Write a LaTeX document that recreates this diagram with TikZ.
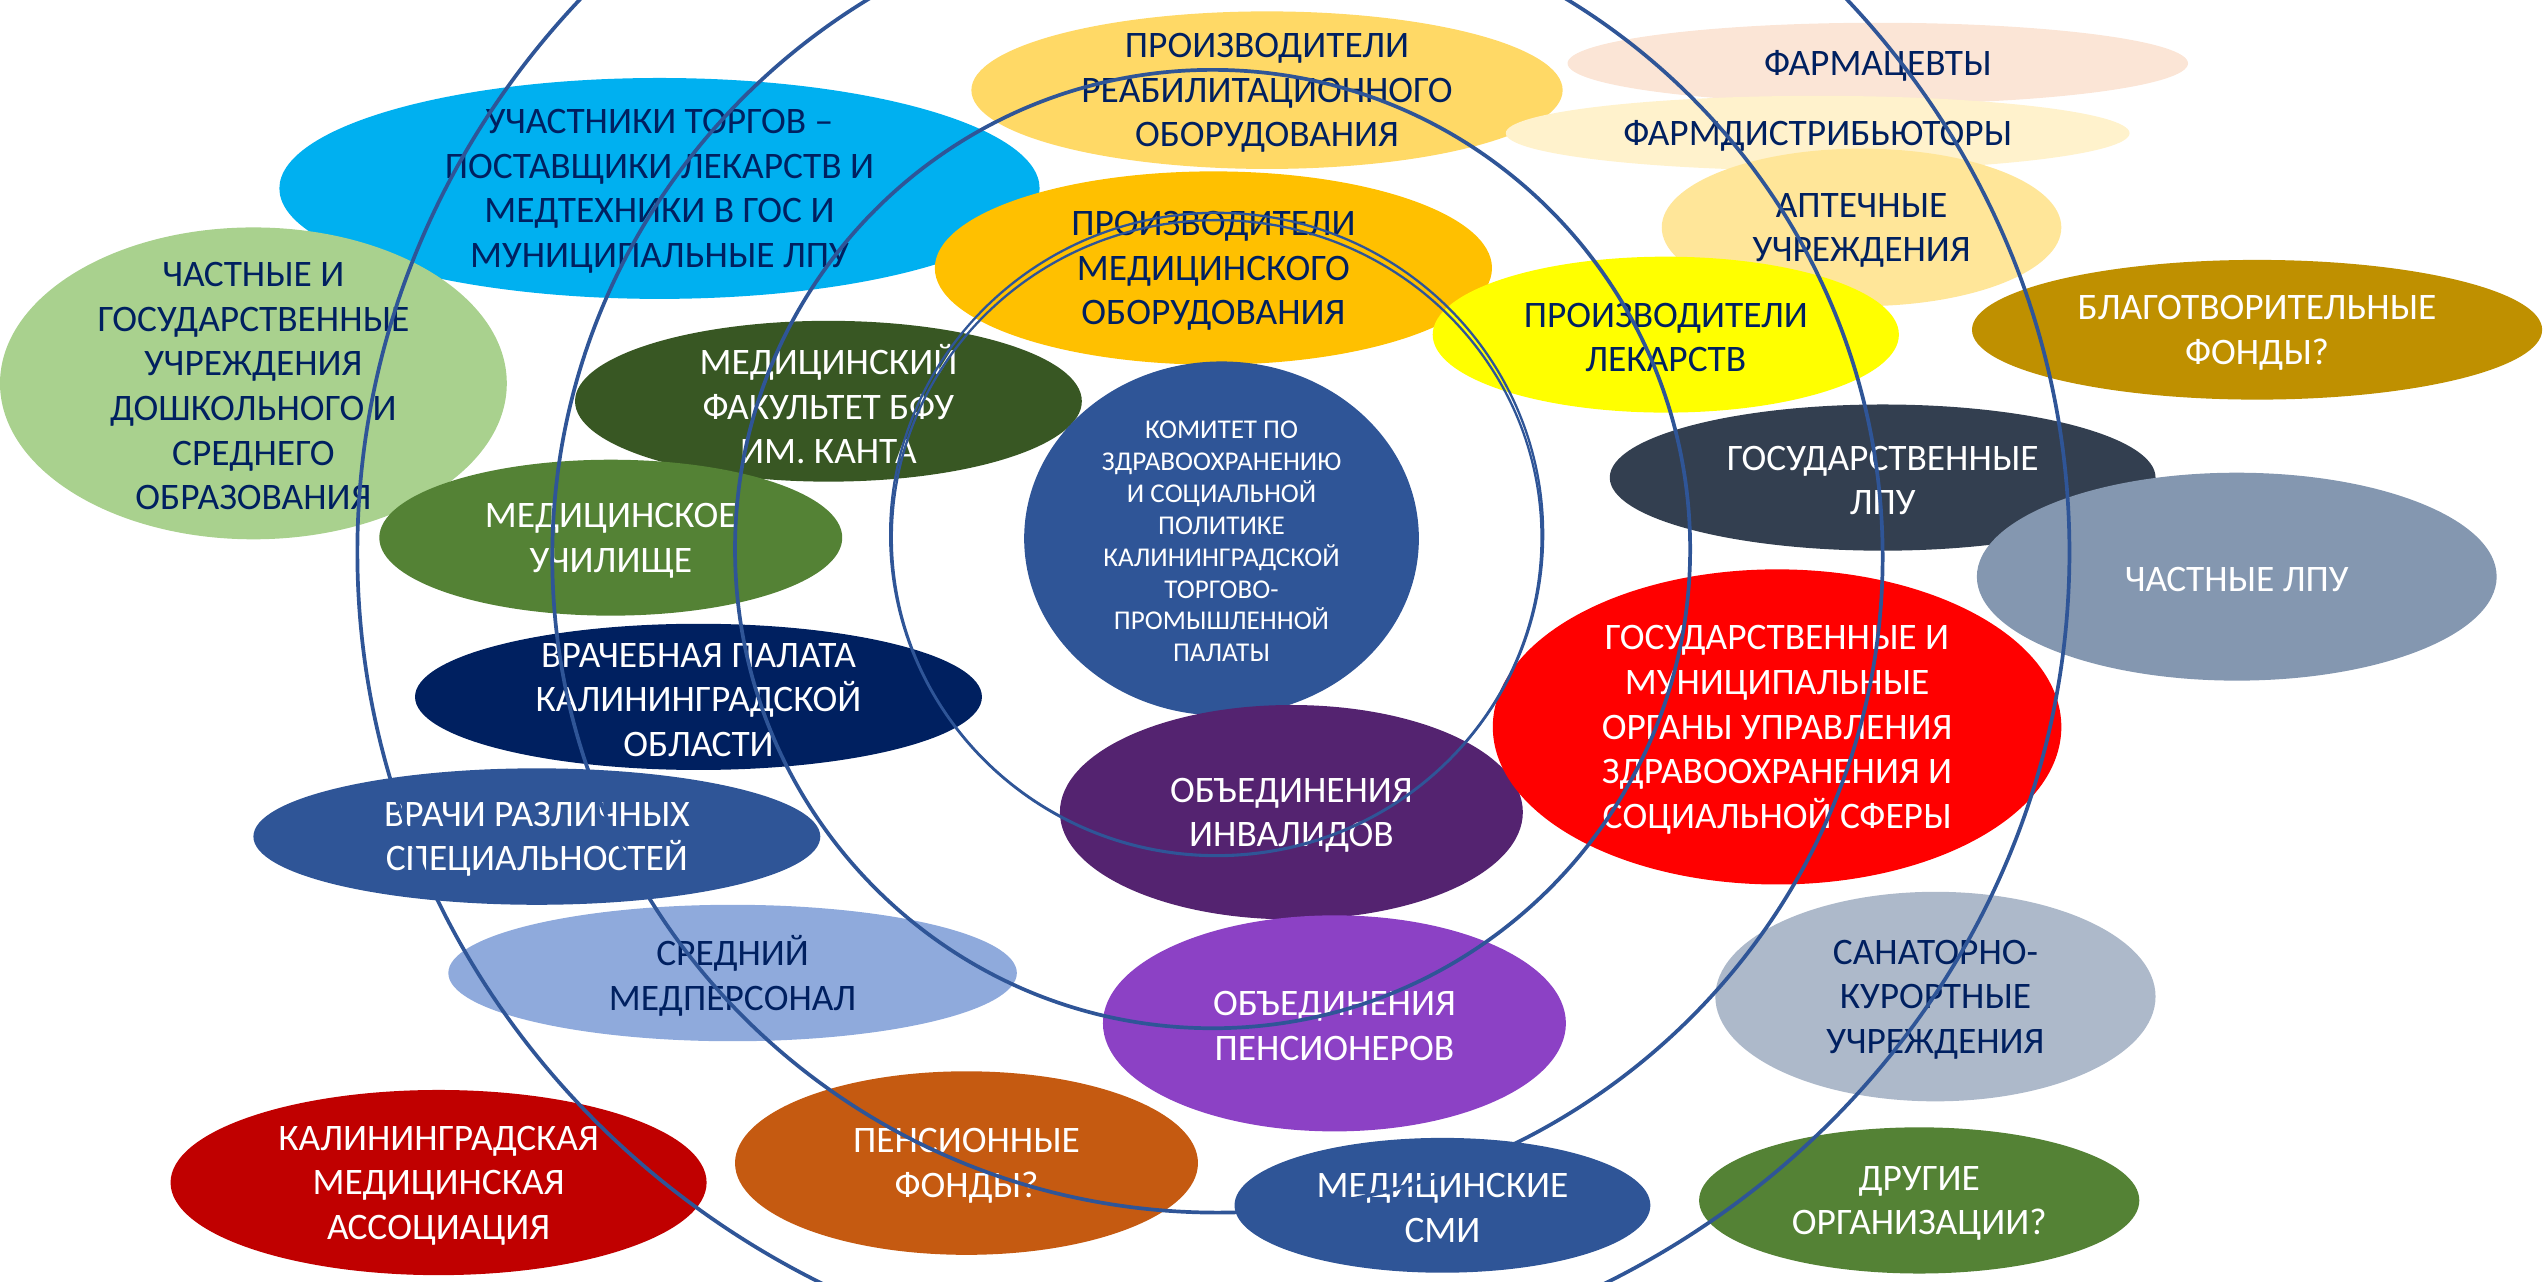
\documentclass[tikz,border=0pt]{standalone}
\usepackage{fontspec}
\setmainfont{Carlito}
\definecolor{navy}{HTML}{002060}
\definecolor{ringblue}{HTML}{2F5597}
\definecolor{cyanf}{HTML}{00B0F0}
\definecolor{lgreen}{HTML}{A9D18E}
\definecolor{dgreen}{HTML}{385723}
\definecolor{mgreen}{HTML}{548235}
\definecolor{dnavy}{HTML}{002060}
\definecolor{mblue}{HTML}{2F5597}
\definecolor{lblue}{HTML}{8FAADC}
\definecolor{dred}{HTML}{C00000}
\definecolor{orangef}{HTML}{C55A11}
\definecolor{lorange}{HTML}{FFD966}
\definecolor{goldf}{HTML}{FFC000}
\definecolor{dpurple}{HTML}{542370}
\definecolor{purplef}{HTML}{8C41C5}
\definecolor{peach}{HTML}{FBE5D6}
\definecolor{cream}{HTML}{FFF2CC}
\definecolor{lgold}{HTML}{FFE699}
\definecolor{yellowf}{HTML}{FFFF00}
\definecolor{dgold}{HTML}{BF9000}
\definecolor{slate}{HTML}{333F50}
\definecolor{greyblue}{HTML}{8497B0}
\definecolor{lgreyblue}{HTML}{ADB9CA}
\definecolor{redf}{HTML}{FF0000}
\begin{document}
\begin{tikzpicture}[x=0.02cm, y=-0.02cm,
  lbl/.style={align=center, inner sep=0pt, yshift=-1pt, text=navy, font=\fontsize{13.1}{15.6}\selectfont},
  wlbl/.style={lbl, text=white},
  ring/.style={draw=ringblue, line width=1.3pt},
  thinring/.style={draw=ringblue, line width=0.8pt}]
\useasboundingbox (0,0) rectangle (1568,789);
\clip (0,0) rectangle (1568,789);

% left side
\fill[cyanf] (406,116) ellipse [x radius=234, y radius=68]
  node[lbl] (torgi) {УЧАСТНИКИ ТОРГОВ –\\ПОСТАВЩИКИ ЛЕКАРСТВ И\\МЕДТЕХНИКИ В ГОС И\\МУНИЦИПАЛЬНЫЕ ЛПУ};
\fill[lgreen] (156,236) ellipse [x radius=156, y radius=96]
  node[lbl] (doshk) {ЧАСТНЫЕ И\\ГОСУДАРСТВЕННЫЕ\\УЧРЕЖДЕНИЯ\\ДОШКОЛЬНОГО И\\СРЕДНЕГО\\ОБРАЗОВАНИЯ};
\fill[dgreen] (510,247) ellipse [x radius=156, y radius=49.5]
  node[wlbl] (bfu) {МЕДИЦИНСКИЙ\\ФАКУЛЬТЕТ БФУ\\ИМ. КАНТА};
\fill[mgreen] (376,331) ellipse [x radius=142.5, y radius=48]
  node[wlbl] (uchil) {МЕДИЦИНСКОЕ\\УЧИЛИЩЕ};
\fill[dnavy] (430,429) ellipse [x radius=174.5, y radius=45]
  node[wlbl] (palata) {ВРАЧЕБНАЯ ПАЛАТА\\КАЛИНИНГРАДСКОЙ\\ОБЛАСТИ};
\fill[mblue] (330.5,515) ellipse [x radius=174.5, y radius=42]
  node[wlbl] (vrachi) {ВРАЧИ РАЗЛИЧНЫХ\\СПЕЦИАЛЬНОСТЕЙ};
\fill[lblue] (451,599) ellipse [x radius=175, y radius=42]
  node[lbl] (srmed) {СРЕДНИЙ\\МЕДПЕРСОНАЛ};
\fill[dred] (270,728) ellipse [x radius=165, y radius=57]
  node[wlbl] (kma) {КАЛИНИНГРАДСКАЯ\\МЕДИЦИНСКАЯ\\АССОЦИАЦИЯ};
\fill[orangef] (595,716) ellipse [x radius=142.5, y radius=56.5]
  node[wlbl] (pfond) {ПЕНСИОННЫЕ\\ФОНДЫ?};

% middle
\fill[lorange] (780,55.5) ellipse [x radius=182, y radius=48.5]
  node[lbl] (reabil) {ПРОИЗВОДИТЕЛИ\\РЕАБИЛИТАЦИОННОГО\\ОБОРУДОВАНИЯ};
\fill[goldf] (747,165) ellipse [x radius=171.5, y radius=59.5]
  node[lbl] (medob) {ПРОИЗВОДИТЕЛИ\\МЕДИЦИНСКОГО\\ОБОРУДОВАНИЯ};
\fill[mblue] (752,331.5) ellipse [x radius=121.5, y radius=109]
  node[wlbl, font=\fontsize{9.5}{11.2}\selectfont] (komitet) {КОМИТЕТ ПО\\ЗДРАВООХРАНЕНИЮ\\И СОЦИАЛЬНОЙ\\ПОЛИТИКЕ\\КАЛИНИНГРАДСКОЙ\\ТОРГОВО-\\ПРОМЫШЛЕННОЙ\\ПАЛАТЫ};
\fill[dpurple] (795,500) ellipse [x radius=142.5, y radius=66]
  node[wlbl] (invalid) {ОБЪЕДИНЕНИЯ\\ИНВАЛИДОВ};
\fill[purplef] (821.5,630) ellipse [x radius=142.5, y radius=66.5]
  node[wlbl] (pension) {ОБЪЕДИНЕНИЯ\\ПЕНСИОНЕРОВ};
\fill[mblue] (888,742) ellipse [x radius=128, y radius=41.5]
  node[wlbl] (smi) {МЕДИЦИНСКИЕ\\СМИ};

% right side
\fill[peach] (1156,39) ellipse [x radius=191, y radius=25]
  node[lbl] (farmac) {ФАРМАЦЕВТЫ};
\fill[cream] (1119,82) ellipse [x radius=192, y radius=23]
  node[lbl] (farmdis) {ФАРМДИСТРИБЬЮТОРЫ};
\fill[lgold] (1146,140) ellipse [x radius=123, y radius=48.5]
  node[lbl] (apteki) {АПТЕЧНЫЕ\\УЧРЕЖДЕНИЯ};
\fill[yellowf] (1025.5,206) ellipse [x radius=143.5, y radius=48]
  node[lbl] (lekar) {ПРОИЗВОДИТЕЛИ\\ЛЕКАРСТВ};
\fill[dgold] (1389.5,203) ellipse [x radius=175.5, y radius=43]
  node[wlbl] (blag) {БЛАГОТВОРИТЕЛЬНЫЕ\\ФОНДЫ?};
\fill[slate] (1159,294) ellipse [x radius=168, y radius=45]
  node[wlbl] (goslpu) {ГОСУДАРСТВЕННЫЕ\\ЛПУ};
\fill[greyblue] (1377,355) ellipse [x radius=160, y radius=64]
  node[wlbl] (chlpu) {ЧАСТНЫЕ ЛПУ};
\fill[redf] (1094,447.5) ellipse [x radius=175, y radius=97]
  node[wlbl] (organy) {ГОСУДАРСТВЕННЫЕ И\\МУНИЦИПАЛЬНЫЕ\\ОРГАНЫ УПРАВЛЕНИЯ\\ЗДРАВООХРАНЕНИЯ И\\СОЦИАЛЬНОЙ СФЕРЫ};
\fill[lgreyblue] (1191.5,613.5) ellipse [x radius=135.5, y radius=64.5]
  node[lbl] (sanat) {САНАТОРНО-\\КУРОРТНЫЕ\\УЧРЕЖДЕНИЯ};
\fill[mgreen] (1181.5,739) ellipse [x radius=135.5, y radius=45]
  node[wlbl] (drugie) {ДРУГИЕ\\ОРГАНИЗАЦИИ?};

% rings
\draw[ring] (747,340) ellipse [x radius=527, y radius=506];
\draw[ring] (749.5,343) ellipse [x radius=409.5, y radius=403.5];
\draw[ring] (746.5,338) ellipse [x radius=294, y radius=295];
\draw[thinring] (749,331) ellipse [x radius=200, y radius=195.5];
\draw[thinring] (749,329) ellipse [x radius=201, y radius=198];
\end{tikzpicture}
\end{document}
